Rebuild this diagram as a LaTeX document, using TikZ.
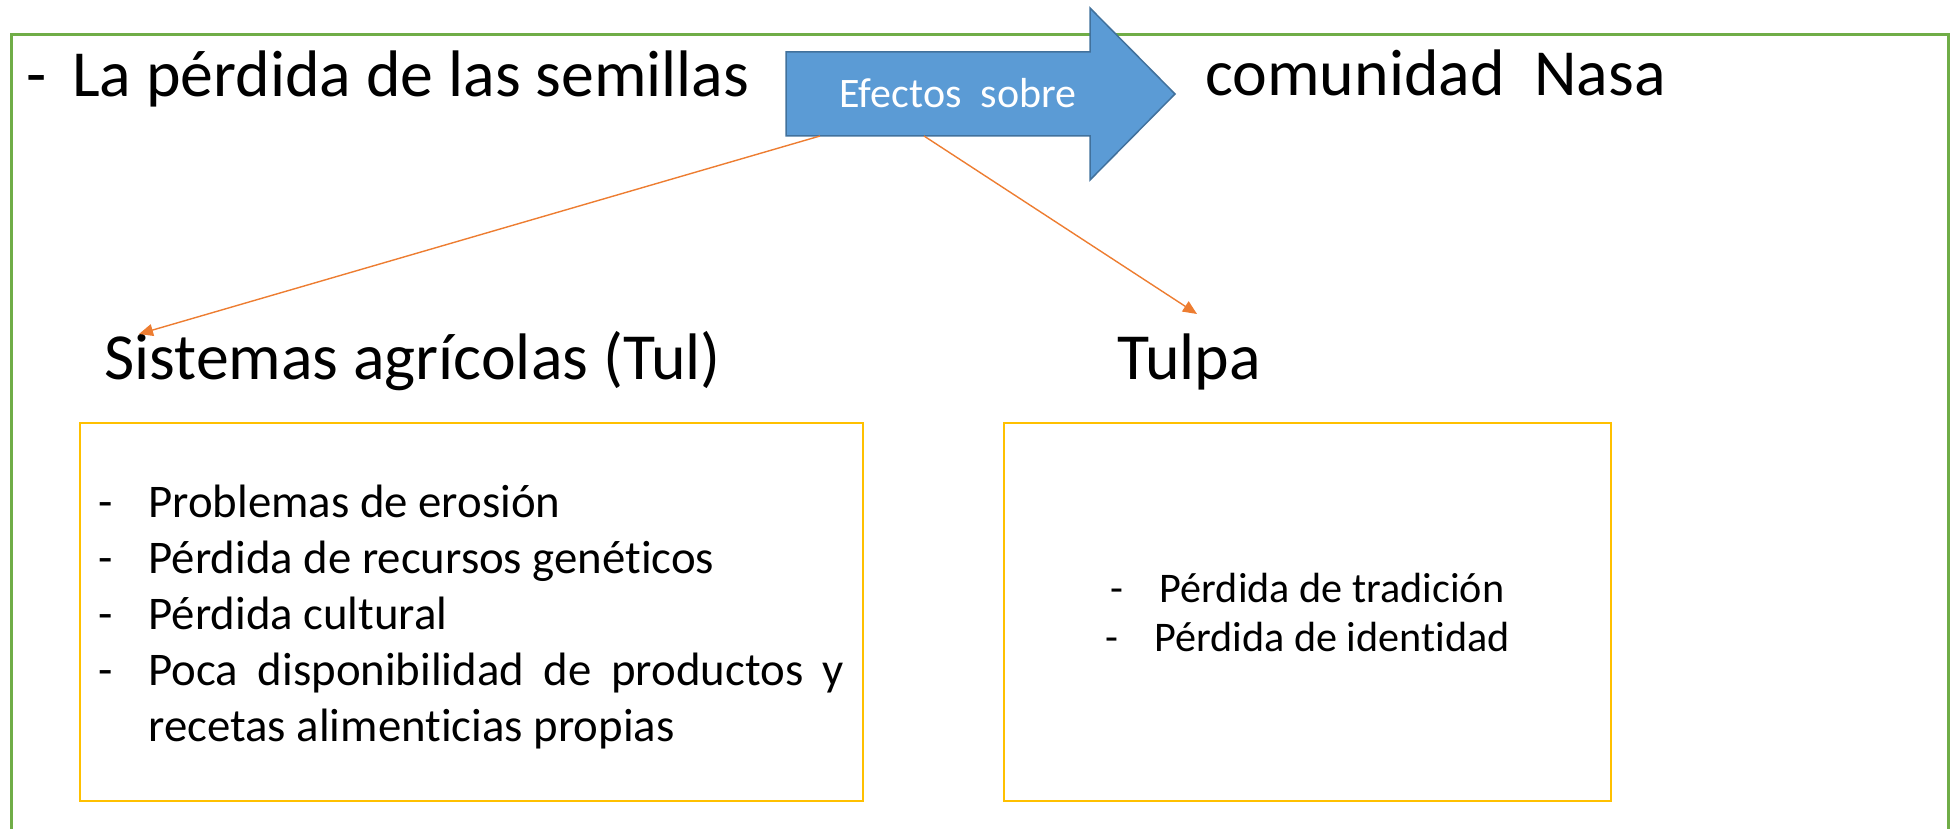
\documentclass[tikz,border=0pt]{standalone}
\usepackage{fontspec}
\setmainfont{Carlito}[Ligatures=NoCommon]
\usetikzlibrary{arrows.meta}

\definecolor{marco}{HTML}{70AD47}
\definecolor{amarillo}{HTML}{FFC000}
\definecolor{azul}{HTML}{5B9BD5}
\definecolor{azulborde}{HTML}{41719C}
\definecolor{naranja}{HTML}{ED7D31}

\newcommand{\guion}[1]{\par\noindent\hangindent=25pt\hangafter=1\makebox[25pt][l]{-}#1\par}

\begin{document}
\begin{tikzpicture}[x=0.5pt,y=-0.5pt,
  titulo/.style={font=\fontsize{32.9}{39}\selectfont,anchor=base west,inner sep=0},
  caja/.style={draw=amarillo,line width=1pt,minimum height=189pt,inner sep=0},
  enlace/.style={draw=naranja,line width=0.7pt,-{Triangle[length=7pt,width=6pt]}}]

\useasboundingbox (0,0) rectangle (1950,829);

\begin{scope}
\draw[marco,line width=1.5pt] (11,900) -- (11,34.5) -- (1948.5,34.5) -- (1948.5,900);

\coordinate (c1) at (820,136);
\coordinate (c2) at (924,136);
\coordinate (f1) at (139,334);
\coordinate (f2) at (1197,314);

% flecha central
\draw[fill=azul,draw=azulborde,line width=0.75pt] (786,52) -- (1090,52) -- (1090,8) -- (1175,94) -- (1090,180) -- (1090,136) -- (786,136) -- cycle;
\node[text=white,font=\fontsize{21}{25}\selectfont,anchor=base,inner sep=0] (efectos) at (958,108) {Efectos\ \ sobre};

\node[titulo] (semillas) at (26,97) {-\hspace{12.9pt}La pérdida de las semillas};
\node[titulo] (nasa) at (1205,96) {comunidad\ \ Nasa};
\node[titulo] (tul) at (104,379) {Sistemas agrícolas (Tul)};
\node[titulo] (tulpa) at (1117,379) {Tulpa};

\node[caja,minimum width=391.5pt] (cajatul) at (471.5,612) {};
\node[text width=373pt,align=justify,inner sep=0,font=\fontsize{23.4}{28}\selectfont] (problemas) at ([yshift=3.5pt]cajatul.center)
  {\guion{Problemas de erosión}\guion{Pérdida de recursos genéticos}\guion{Pérdida cultural}\guion{Poca disponibilidad de productos y\linebreak recetas alimenticias propias}};
\node[caja,minimum width=303.5pt,align=center,font=\fontsize{21.1}{24.5}\selectfont] (perdidas) at (1307.5,612)
  {\makebox[24.5pt][l]{-}Pérdida de tradición\\\makebox[24.5pt][l]{-}Pérdida de identidad};

\draw[enlace] (c1) -- (f1);
\draw[enlace] (c2) -- (f2);
\end{scope}

\end{tikzpicture}
\end{document}
